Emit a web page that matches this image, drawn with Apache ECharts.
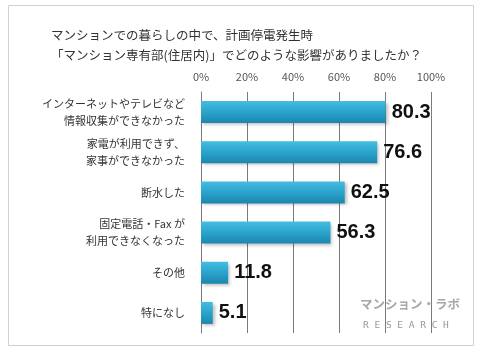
<!DOCTYPE html>
<html>
<head>
<meta charset="utf-8">
<script src="https://cdn.jsdelivr.net/npm/echarts@6/dist/echarts.min.js"></script>
<style>
  html, body { margin: 0; padding: 0; background: #fff; }
  #chart { width: 480px; height: 350px; }
</style>
</head>
<body>
<div id="chart"></div>
<script>
// 回答項目（上から順）
const categories = [
  'インターネットやテレビなど\n情報収集ができなかった',
  '家電が利用できず、\n家事ができなかった',
  '断水した',
  '固定電話・Fax が\n利用できなくなった',
  'その他',
  '特になし'
];
const values = [80.3, 76.6, 62.5, 56.3, 11.8, 5.1];
const titleLines = [
  'マンションでの暮らしの中で、計画停電発生時',
  '「マンション専有部(住居内)」でどのような影響がありましたか？'
];

const chart = echarts.init(document.getElementById('chart'), null, { renderer: 'canvas' });

chart.setOption({
  animation: false,
  textStyle: { fontFamily: '"Noto Sans CJK JP", sans-serif' },
  title: {
    text: titleLines.join('\n'),
    left: 46,
    top: 20,
    textStyle: { fontSize: 12.5, fontWeight: 'normal', color: '#333', lineHeight: 20 }
  },
  graphic: [
    {
      type: 'rect',
      shape: { x: 8.5, y: 5.5, width: 465, height: 340 },
      style: { fill: 'none', stroke: '#d0d0d0', lineWidth: 1 },
      z: -1
    },
    {
      type: 'text',
      left: 360, top: 298,
      style: { text: 'マンション・ラボ', fontSize: 12.5, fontWeight: 'bold', fill: '#a8a8a8', fontFamily: '"Noto Sans CJK JP", sans-serif' }
    },
    {
      type: 'text',
      left: 363, top: 321,
      style: { text: 'R E S E A R C H', fontSize: 9.5, fill: '#999', fontFamily: 'DejaVu Sans Mono, monospace' }
    }
  ],
  grid: { left: 201, right: 49, top: 92, bottom: 17 },
  xAxis: {
    type: 'value',
    position: 'top',
    min: 0,
    max: 100,
    interval: 20,
    axisLine: { show: false },
    axisTick: { show: false },
    axisLabel: { formatter: '{value}%', color: '#555', fontSize: 11, margin: 10 },
    splitLine: { lineStyle: { color: '#7a7a7a', width: 1 } }
  },
  yAxis: {
    type: 'category',
    inverse: true,
    data: categories,
    axisLine: { show: true, lineStyle: { color: '#7a7a7a' } },
    axisTick: { show: false },
    axisLabel: { color: '#333', fontSize: 11, lineHeight: 17, margin: 16, align: 'right' }
  },
  series: [{
    type: 'bar',
    data: values,
    barWidth: 22,
    itemStyle: {
      color: new echarts.graphic.LinearGradient(0, 0, 0, 1, [
        { offset: 0, color: '#45bde0' },
        { offset: 0.5, color: '#2aa3cc' },
        { offset: 1, color: '#1d86ad' }
      ]),
      shadowColor: 'rgba(0,0,0,0.25)',
      shadowBlur: 3,
      shadowOffsetX: 2,
      shadowOffsetY: 2
    },
    label: {
      show: true,
      position: 'right',
      distance: 6,
      formatter: p => p.value.toFixed(1),
      color: '#111',
      fontSize: 20,
      fontWeight: 'bold',
      fontFamily: 'Liberation Sans, Arial, sans-serif'
    }
  }]
});
</script>
</body>
</html>
